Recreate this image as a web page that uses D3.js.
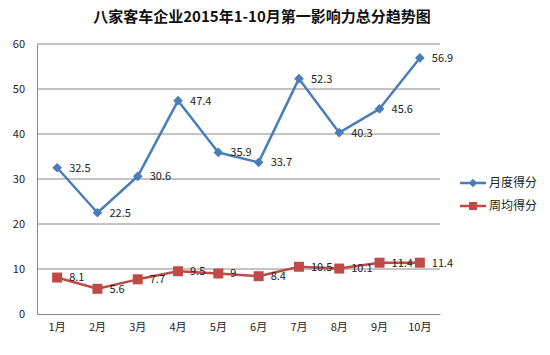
<!DOCTYPE html>
<html><head><meta charset="utf-8">
<script src="https://cdn.jsdelivr.net/npm/d3@7"></script>
<style>body{margin:0;background:#fff}svg{display:block}</style>
</head><body>
<svg id="c" width="550" height="355"></svg>
<script>
const categories = ["1月","2月","3月","4月","5月","6月","7月","8月","9月","10月"];
const monthly = [32.5,22.5,30.6,47.4,35.9,33.7,52.3,40.3,45.6,56.9];
const weekly = [8.1,5.6,7.7,9.5,9,8.4,10.5,10.1,11.4,11.4];
const seriesNames = ["月度得分","周均得分"];
const yTicks = [0,10,20,30,40,50,60];
const title = "八家客车企业2015年1-10月第一影响力总分趋势图";

const svg = d3.select("#c");
const font = "'Noto Sans CJK SC', 'Noto Sans', sans-serif";
const L = 37, R = 440, T = 44, B = 314;
const x = d3.scaleBand().domain(categories).range([L, R]);
const y = d3.scaleLinear().domain([0, 60]).range([B, T]);
const cx = d => x(d) + x.bandwidth() / 2;

svg.append("text").attr("x", 262).attr("y", 22).attr("text-anchor", "middle")
  .attr("font-family", font).attr("font-weight", "bold").attr("font-size", 15).attr("fill", "#111").text(title);

// gridlines
svg.append("g").selectAll("line").data(yTicks.filter(t => t > 0)).join("line")
  .attr("x1", L).attr("x2", R).attr("y1", d => y(d)).attr("y2", d => y(d))
  .attr("stroke", "#888").attr("stroke-width", 1);

// y axis
const ya = svg.append("g").attr("transform", `translate(${L},0)`)
  .call(d3.axisLeft(y).tickValues(yTicks).tickSize(0).tickPadding(12));
ya.select(".domain").attr("stroke", "#888");
ya.selectAll("text").attr("font-family", font).attr("font-size", 11).attr("fill", "#222");

// x axis
const xa = svg.append("g").attr("transform", `translate(0,${B})`)
  .call(d3.axisBottom(x).tickSize(0).tickPadding(9));
xa.select(".domain").attr("stroke", "#888");
xa.selectAll("text").attr("font-family", font).attr("font-size", 11).attr("fill", "#222");

const colors = ["#4a7ebb", "#be4b48"];
const line = d3.line().x((d, i) => cx(categories[i])).y(d => y(d));
[monthly, weekly].forEach((data, si) => {
  const g = svg.append("g");
  g.append("path").datum(data).attr("d", line).attr("fill", "none")
    .attr("stroke", colors[si]).attr("stroke-width", 2.5).attr("stroke-linejoin", "round");
  if (si === 0) {
    g.selectAll("path.m").data(data).join("path").attr("class", "m")
      .attr("d", d3.symbol(d3.symbolDiamond2, 60))
      .attr("transform", (d, i) => `translate(${cx(categories[i])},${y(d)})`).attr("fill", colors[si]);
  } else {
    g.selectAll("rect").data(data).join("rect")
      .attr("x", (d, i) => cx(categories[i]) - 5).attr("y", d => y(d) - 5)
      .attr("width", 10).attr("height", 10).attr("fill", colors[si]);
  }
  g.selectAll("text").data(data).join("text")
    .attr("x", (d, i) => cx(categories[i]) + 12).attr("y", d => y(d)).attr("dy", "0.35em")
    .attr("font-family", font).attr("font-size", 11).attr("fill", "#222").text(d => d);
});

// legend
seriesNames.forEach((n, i) => {
  const ly = 183 + i * 23;
  const g = svg.append("g");
  g.append("line").attr("x1", 460).attr("x2", 486).attr("y1", ly).attr("y2", ly)
    .attr("stroke", colors[i]).attr("stroke-width", 2.5);
  if (i === 0) g.append("path").attr("d", d3.symbol(d3.symbolDiamond2, 45)).attr("transform", `translate(473,${ly})`).attr("fill", colors[i]);
  else g.append("rect").attr("x", 469).attr("y", ly - 4).attr("width", 8).attr("height", 8).attr("fill", colors[i]);
  g.append("text").attr("x", 489).attr("y", ly).attr("dy", "0.35em").attr("font-family", font)
    .attr("font-size", 12).attr("fill", "#222").text(n);
});
</script>
</body></html>
